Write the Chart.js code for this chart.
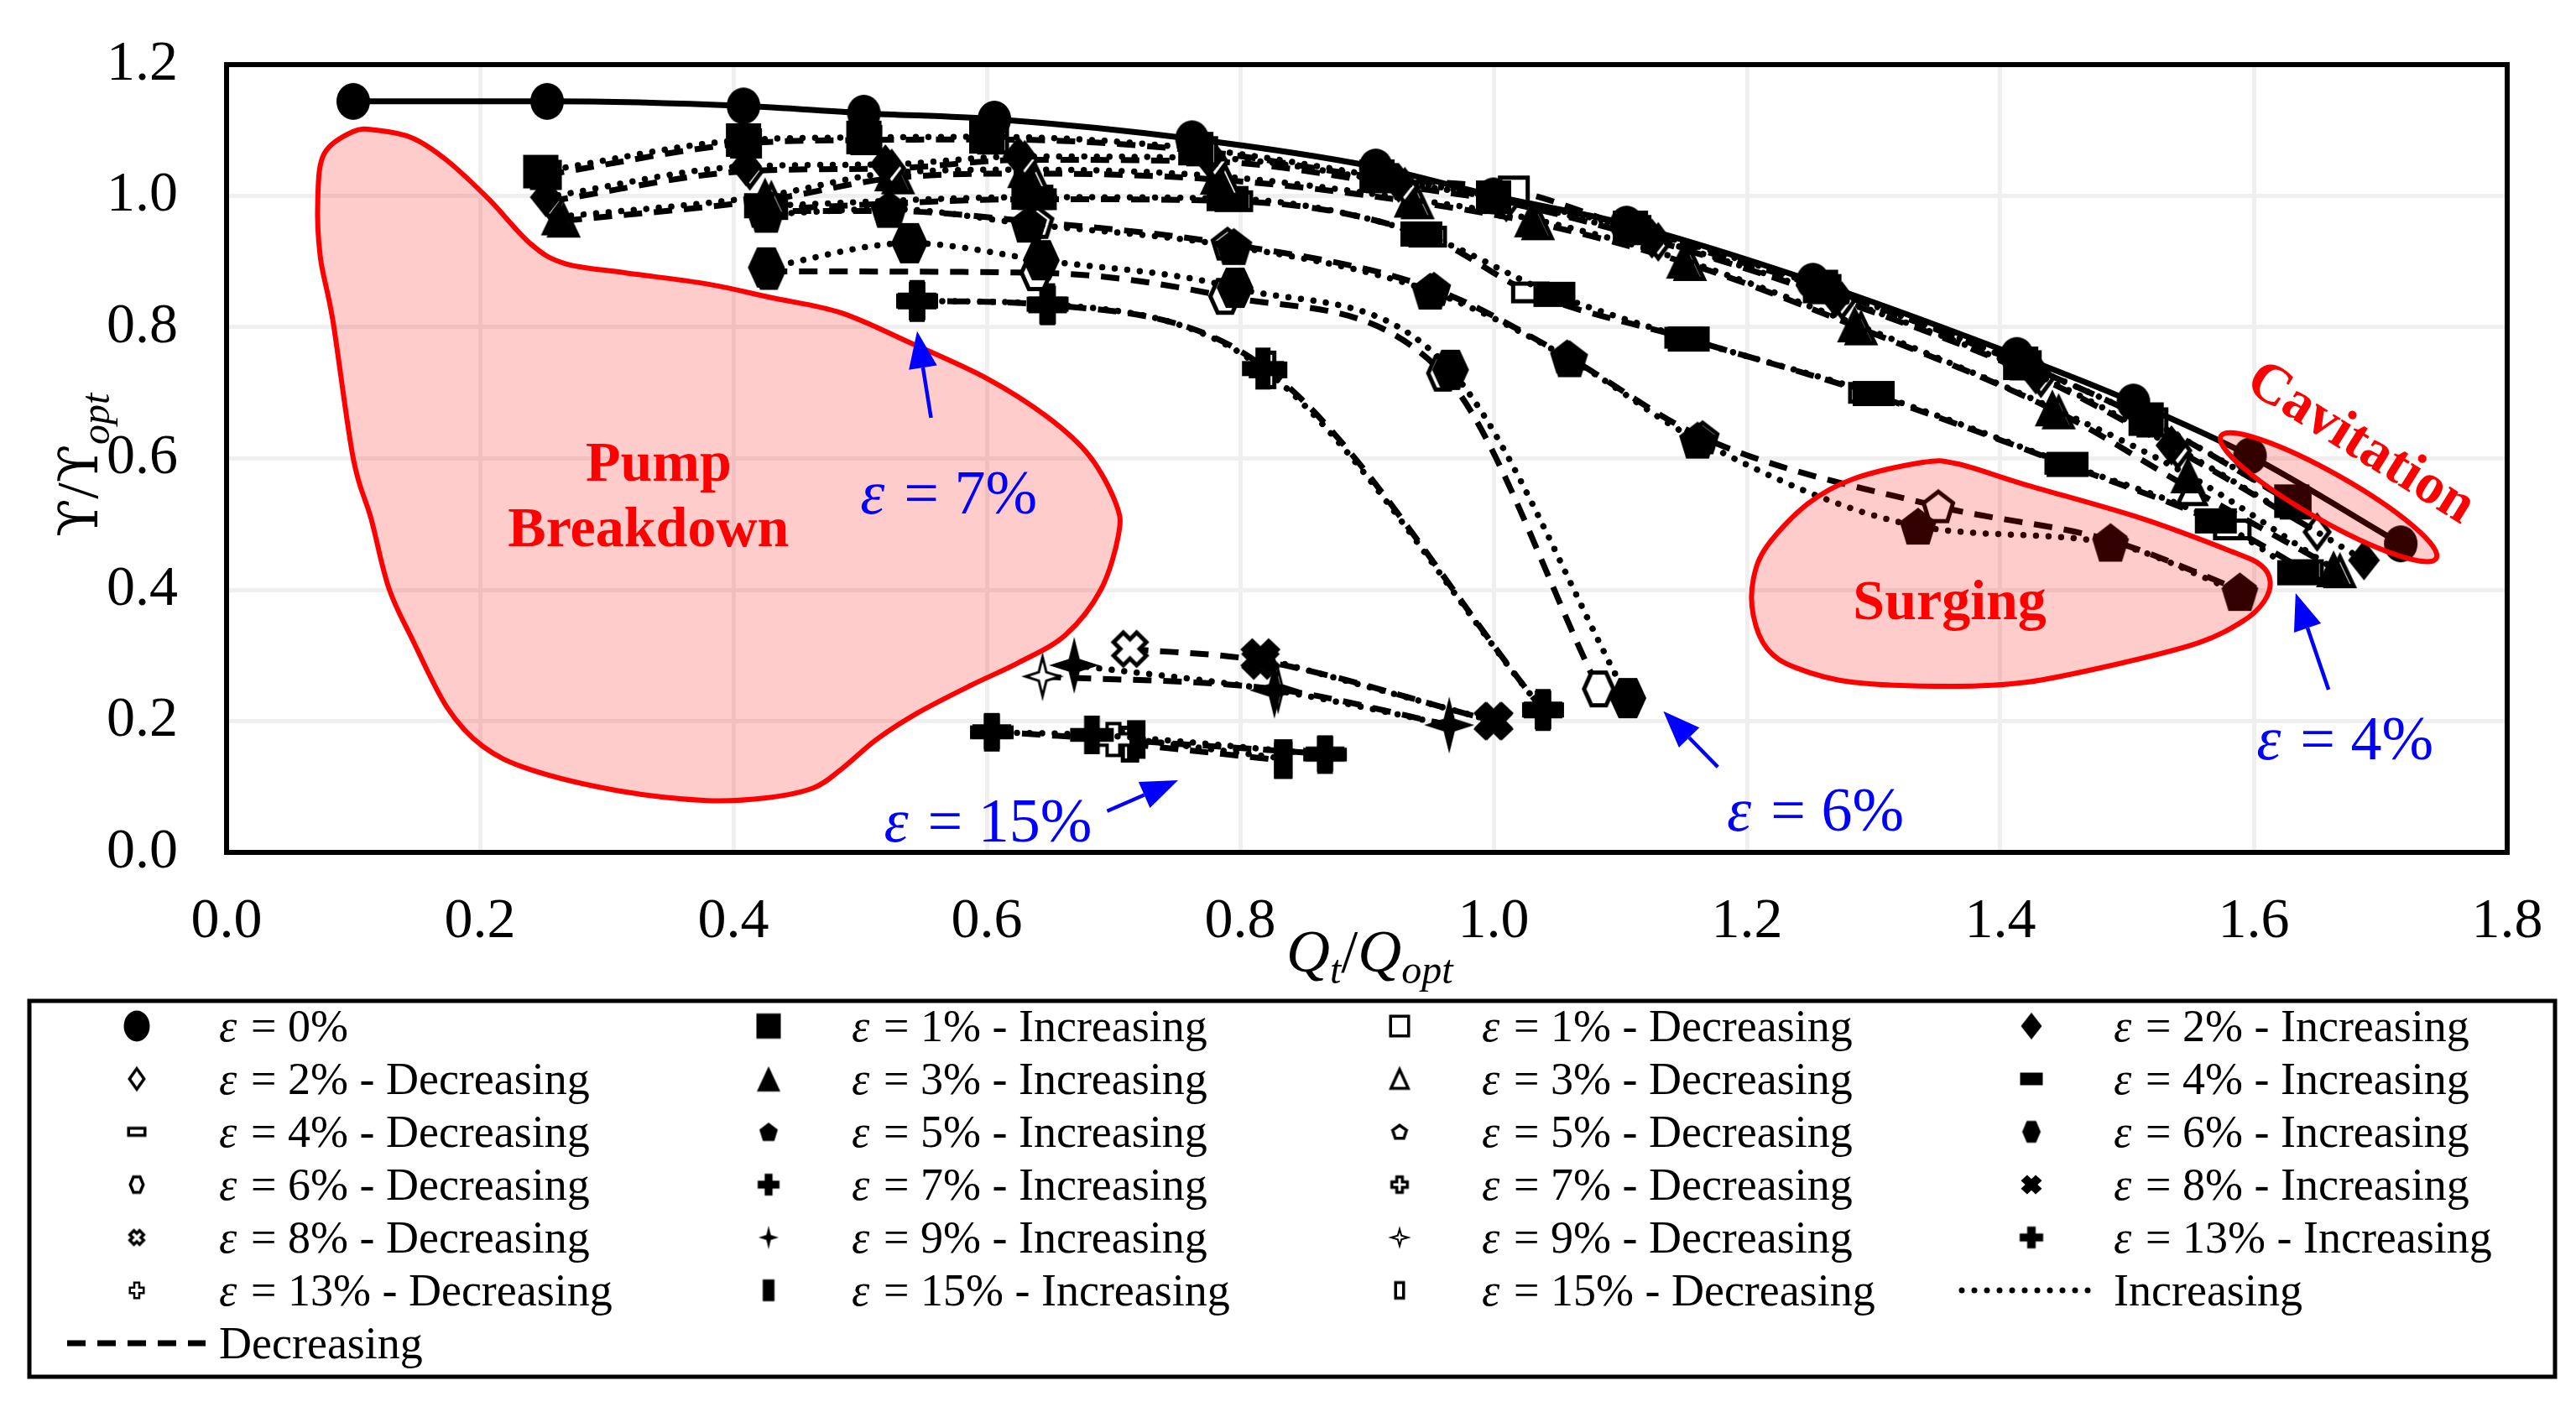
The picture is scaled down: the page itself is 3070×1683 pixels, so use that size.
<!DOCTYPE html>
<html><head><meta charset="utf-8">
<script src="https://cdn.jsdelivr.net/npm/chart.js@4.4.0/dist/chart.umd.min.js"></script>
<style>html,body{margin:0;padding:0;background:#fff;}canvas{display:block;}</style>
</head><body>
<canvas id="c" width="3070" height="1683" style="width:3070px;height:1683px"></canvas>
<script>
// ---------------- DATA ----------------
const xTickValues = [0,0.2,0.4,0.6,0.8,1.0,1.2,1.4,1.6,1.8];
const xTickLabels = ['0.0','0.2','0.4','0.6','0.8','1.0','1.2','1.4','1.6','1.8'];
const yTickValues = [0,0.2,0.4,0.6,0.8,1.0,1.2];
const yTickLabels = ['0.0','0.2','0.4','0.6','0.8','1.0','1.2'];

const e0_x = [0.100,0.253,0.408,0.503,0.606,0.762,0.907,1.000,1.105,1.252,1.413,1.505,1.597,1.716];
const e0_y = [1.144,1.144,1.137,1.126,1.117,1.087,1.044,1.000,0.957,0.870,0.757,0.686,0.604,0.470];
const e1i_x = [0.248,0.408,0.503,0.600,0.765,0.908,1.000,1.108,1.258,1.416,1.515,1.630];
const e1i_y = [1.037,1.085,1.089,1.090,1.072,1.030,0.998,0.952,0.862,0.745,0.660,0.535];
const e1d_x = [0.252,0.410,0.505,0.605,0.770,0.912,1.016,1.112,1.262,1.420,1.520,1.633];
const e1d_y = [1.032,1.080,1.085,1.086,1.068,1.027,1.008,0.948,0.858,0.742,0.655,0.530];
const e2i_x = [0.252,0.410,0.520,0.625,0.775,0.925,1.005,1.125,1.270,1.428,1.535,1.687];
const e2i_y = [0.998,1.045,1.048,1.060,1.058,1.020,0.995,0.935,0.845,0.728,0.620,0.445];
const e2d_x = [0.255,0.413,0.525,0.630,0.780,0.930,1.010,1.130,1.275,1.432,1.540,1.650];
const e2d_y = [0.992,1.038,1.042,1.055,1.052,1.014,0.990,0.930,0.840,0.722,0.612,0.488];
const e3i_x = [0.262,0.425,0.525,0.630,0.782,0.935,1.030,1.150,1.285,1.441,1.548,1.663];
const e3i_y = [0.968,1.000,1.035,1.040,1.030,0.995,0.965,0.902,0.805,0.677,0.575,0.432];
const e3d_x = [0.266,0.430,0.530,0.636,0.788,0.940,1.035,1.155,1.290,1.446,1.551,1.668];
const e3d_y = [0.962,0.995,1.028,1.034,1.024,0.990,0.958,0.896,0.798,0.670,0.553,0.428];
const e4i_x = [0.425,0.636,0.790,0.943,1.048,1.154,1.300,1.453,1.570,1.635];
const e4i_y = [0.985,0.998,0.996,0.942,0.850,0.782,0.699,0.591,0.505,0.426];
const e4d_x = [0.428,0.640,0.795,0.948,1.029,1.150,1.295,1.450,1.583,1.640];
const e4d_y = [0.980,0.995,0.992,0.938,0.853,0.784,0.700,0.592,0.492,0.430];
const e5i_x = [0.426,0.523,0.633,0.795,0.950,1.060,1.161,1.335,1.487,1.589];
const e5i_y = [0.972,0.980,0.957,0.923,0.855,0.752,0.628,0.497,0.471,0.396];
const e5d_x = [0.423,0.522,0.640,0.790,0.953,1.058,1.165,1.351,1.487,1.589];
const e5d_y = [0.977,0.977,0.960,0.927,0.858,0.755,0.632,0.527,0.475,0.400];
const e6i_x = [0.426,0.539,0.643,0.796,0.966,1.106];
const e6i_y = [0.891,0.928,0.902,0.860,0.735,0.235];
const e6d_x = [0.428,0.639,0.788,0.960,1.083];
const e6d_y = [0.885,0.883,0.847,0.730,0.249];
const e7i_x = [0.545,0.648,0.818,1.039];
const e7i_y = [0.840,0.835,0.737,0.217];
const e7d_x = [0.545,0.648,0.822,1.039];
const e7d_y = [0.840,0.834,0.735,0.217];
const e8i_x = [0.816,1.000];
const e8i_y = [0.297,0.200];
const e8d_x = [0.713,0.816,1.000];
const e8d_y = [0.310,0.292,0.200];
const e9i_x = [0.669,0.827,0.965];
const e9i_y = [0.285,0.247,0.194];
const e9d_x = [0.644,0.830,0.965];
const e9d_y = [0.268,0.248,0.194];
const e13i_x = [0.604,0.683,0.867];
const e13i_y = [0.183,0.179,0.149];
const e13d_x = [0.604,0.700,0.867];
const e13d_y = [0.184,0.172,0.150];
const e15i_x = [0.718,0.834];
const e15i_y = [0.172,0.143];
const e15d_x = [0.713,0.834];
const e15d_y = [0.165,0.140];

// annotation shapes (data units)
const pumpRegion = [[0.072,0.995],[0.077,1.064],[0.100,1.098],[0.119,1.100],[0.147,1.088],[0.174,1.054],[0.207,0.995],[0.240,0.927],[0.267,0.897],[0.314,0.883],[0.379,0.866],[0.430,0.845],[0.485,0.822],[0.541,0.775],[0.601,0.721],[0.648,0.663],[0.681,0.604],[0.702,0.531],[0.704,0.484],[0.690,0.400],[0.662,0.331],[0.625,0.289],[0.588,0.255],[0.545,0.212],[0.513,0.172],[0.486,0.128],[0.463,0.098],[0.426,0.083],[0.379,0.079],[0.309,0.094],[0.240,0.126],[0.202,0.162],[0.174,0.221],[0.147,0.323],[0.128,0.403],[0.114,0.509],[0.100,0.600],[0.084,0.809],[0.074,0.907]];
const surgeRegion = [[1.284,0.569],[1.338,0.594],[1.366,0.592],[1.420,0.560],[1.511,0.509],[1.583,0.458],[1.606,0.437],[1.613,0.412],[1.608,0.382],[1.592,0.353],[1.556,0.319],[1.488,0.285],[1.420,0.259],[1.361,0.253],[1.284,0.259],[1.239,0.281],[1.216,0.310],[1.205,0.361],[1.205,0.416],[1.216,0.467],[1.248,0.531]];
const cavEnds = [[1.574,0.634],[1.744,0.448]];

// ---------------- SERIES DEFINITIONS ----------------
const SERIES = [
  {eps:'0%', dir:'', x:e0_x, y:e0_y, mk:'c0', line:'solid'},
  {eps:'1%', dir:'Increasing', x:e1i_x, y:e1i_y, mk:'s1i', line:'dot'},
  {eps:'1%', dir:'Decreasing', x:e1d_x, y:e1d_y, mk:'s1d', line:'dash'},
  {eps:'2%', dir:'Increasing', x:e2i_x, y:e2i_y, mk:'d2i', line:'dot'},
  {eps:'2%', dir:'Decreasing', x:e2d_x, y:e2d_y, mk:'d2d', line:'dash'},
  {eps:'3%', dir:'Increasing', x:e3i_x, y:e3i_y, mk:'t3i', line:'dot'},
  {eps:'3%', dir:'Decreasing', x:e3d_x, y:e3d_y, mk:'t3d', line:'dash'},
  {eps:'4%', dir:'Increasing', x:e4i_x, y:e4i_y, mk:'r4i', line:'dot'},
  {eps:'4%', dir:'Decreasing', x:e4d_x, y:e4d_y, mk:'r4d', line:'dash'},
  {eps:'5%', dir:'Increasing', x:e5i_x, y:e5i_y, mk:'p5i', line:'dot'},
  {eps:'5%', dir:'Decreasing', x:e5d_x, y:e5d_y, mk:'p5d', line:'dash'},
  {eps:'6%', dir:'Increasing', x:e6i_x, y:e6i_y, mk:'h6i', line:'dot'},
  {eps:'6%', dir:'Decreasing', x:e6d_x, y:e6d_y, mk:'h6d', line:'dash'},
  {eps:'7%', dir:'Increasing', x:e7i_x, y:e7i_y, mk:'x7i', line:'dot'},
  {eps:'7%', dir:'Decreasing', x:e7d_x, y:e7d_y, mk:'x7d', line:'dash'},
  {eps:'8%', dir:'Increasing', x:e8i_x, y:e8i_y, mk:'k8i', line:'dot'},
  {eps:'8%', dir:'Decreasing', x:e8d_x, y:e8d_y, mk:'k8d', line:'dash'},
  {eps:'9%', dir:'Increasing', x:e9i_x, y:e9i_y, mk:'a9i', line:'dot'},
  {eps:'9%', dir:'Decreasing', x:e9d_x, y:e9d_y, mk:'a9d', line:'dash'},
  {eps:'13%', dir:'Increasing', x:e13i_x, y:e13i_y, mk:'p13i', line:'dot'},
  {eps:'13%', dir:'Decreasing', x:e13d_x, y:e13d_y, mk:'p13d', line:'dash'},
  {eps:'15%', dir:'Increasing', x:e15i_x, y:e15i_y, mk:'b15i', line:'dot'},
  {eps:'15%', dir:'Decreasing', x:e15d_x, y:e15d_y, mk:'b15d', line:'dash'}
];

// marker styles: shape, filled, plot size, legend size, outline width (plot, legend)
const MARKERS = {
  c0:['ellipse',true,[40,44],[31,37]],
  s1i:['rect',true,[42,40],[29,30]],
  s1d:['rect',false,[38,36],[25,27]],
  d2i:['diamond',true,[38,48],[25,32]],
  d2d:['diamond',false,[34,44],[21,28]],
  t3i:['triangle',true,[42,44],[28,30]],
  t3d:['triangle',false,[38,40],[24,26]],
  r4i:['rect',true,[50,30],[27,15]],
  r4d:['rect',false,[46,26],[23,12]],
  p5i:['pentagon',true,[44,44],[22,22]],
  p5d:['pentagon',false,[40,40],[20,19]],
  h6i:['hexagon',true,[44,48],[22,26]],
  h6d:['hexagon',false,[40,44],[19,22]],
  x7i:['plus',true,[50,50],[26,26]],
  x7d:['plus',false,[46,46],[22,22]],
  k8i:['xcross',true,[48,46],[25,23]],
  k8d:['xcross',false,[44,44],[20,20]],
  a9i:['star4',true,[60,68],[24,28]],
  a9d:['star4',false,[44,50],[22,22],[3,2]],
  p13i:['plus',true,[52,46],[28,26]],
  p13d:['plus',false,[46,42],[19,21],[4,2.5]],
  b15i:['rect',true,[22,46],[14,26]],
  b15d:['rect',false,[22,44],[13,22]]
};

const FONT = '"Liberation Serif"';

function polyPath(g, pts){ pts.forEach((p,i)=> i? g.lineTo(p[0],p[1]) : g.moveTo(p[0],p[1])); g.closePath(); }
function fitPts(pts, a, b){
  let mx=0,my=0; pts.forEach(p=>{mx=Math.max(mx,Math.abs(p[0]));my=Math.max(my,Math.abs(p[1]));});
  return pts.map(p=>[p[0]/mx*a, p[1]/my*b]);
}
function plusPts(t){ return [[-t,-1],[t,-1],[t,-t],[1,-t],[1,t],[t,t],[t,1],[-t,1],[-t,t],[-1,t],[-1,-t],[-t,-t]]; }
function shapePath(g, s, w, h){
  const a=w/2,b=h/2;
  g.beginPath();
  if(s==='ellipse'){ g.ellipse(0,0,a,b,0,0,Math.PI*2); return; }
  if(s==='rect'){ g.rect(-a,-b,w,h); return; }
  let pts;
  if(s==='diamond') pts=[[0,-1],[1,0],[0,1],[-1,0]];
  else if(s==='triangle') pts=[[0,-1],[1,1],[-1,1]];
  else if(s==='pentagon'){ pts=[]; for(let k=0;k<5;k++){const t=-Math.PI/2+k*2*Math.PI/5; pts.push([Math.cos(t),Math.sin(t)]);} const yc=(-1+Math.sin(-Math.PI/2+4*Math.PI/5))/2; pts=pts.map(p=>[p[0],p[1]-yc]); }
  else if(s==='hexagon'){ pts=[]; for(let k=0;k<6;k++){const t=k*Math.PI/3; pts.push([Math.cos(t),Math.sin(t)]);} }
  else if(s==='plus') pts=plusPts(0.36);
  else if(s==='xcross'){ const c=Math.SQRT1_2; pts=plusPts(0.42).map(p=>[(p[0]-p[1])*c,(p[0]+p[1])*c]); }
  else if(s==='star4'){ const q=0.22; pts=[[0,-1],[q,-q],[1,0],[q,q],[0,1],[-q,q],[-1,0],[-q,-q]]; }
  polyPath(g, fitPts(pts,a,b));
}
function makeMarker(key, legend){
  const m = MARKERS[key];
  const [shape, filled, ps, ls] = m;
  const [w,h] = legend ? ls : ps;
  const lw = m[4] ? (legend ? m[4][1] : m[4][0]) : (legend ? 3.5 : 5);
  const c = document.createElement('canvas');
  c.width = Math.ceil(w + 2*lw + 4); c.height = Math.ceil(h + 2*lw + 4);
  const g = c.getContext('2d');
  g.translate(c.width/2, c.height/2);
  shapePath(g, shape, filled ? w : w - lw, filled ? h : h - lw);
  if(filled){ g.fillStyle='#000'; g.fill(); }
  else { g.fillStyle='#fff'; g.fill(); g.lineWidth=lw; g.strokeStyle='#000'; g.lineJoin='miter'; g.stroke(); }
  return c;
}

const LINESTYLE = {
  solid:{dash:[], cap:'butt', w:7},
  dot:{dash:[0.001,15], cap:'round', w:7.5},
  dash:{dash:[22,14], cap:'butt', w:7}
};

const datasets = SERIES.map(s => ({
  label: 'ε = ' + s.eps + (s.dir ? ' - ' + s.dir : ''),
  data: s.x.map((x,i)=>({x:x, y:s.y[i]})),
  showLine: true,
  borderColor:'#000', backgroundColor:'#000',
  borderWidth: LINESTYLE[s.line].w,
  borderDash: LINESTYLE[s.line].dash,
  borderCapStyle: LINESTYLE[s.line].cap,
  cubicInterpolationMode: 'monotone',
  pointStyle: makeMarker(s.mk,false),
  pointRadius: 22, pointHoverRadius: 22,
  fill:false
}));
const legendMarkers = SERIES.map(s => makeMarker(s.mk,true));

// -------------- drawing helpers --------------
function drawParts(ctx, x, y, parts, align){
  const ws = parts.map(p=>{ctx.font=p.f; return ctx.measureText(p.t).width + (p.gap||0);});
  const tot = ws.reduce((a,b)=>a+b,0);
  let cx = align==='center' ? x - tot/2 : x;
  parts.forEach((p,i)=>{ ctx.font=p.f; ctx.fillText(p.t, cx, y + (p.dy||0)); cx += ws[i]; });
}
function epsParts(size, val, tail){
  const parts = [
    {t:'ε', f:`italic ${size}px ${FONT}`, gap: size*0.06},
    {t:' = ' + val, f:`${size}px ${FONT}`}
  ];
  if(tail) parts.push({t:' - ' + tail, f:`${size}px ${FONT}`});
  return parts;
}
function smoothClosed(ctx, pts){
  const n=pts.length; ctx.beginPath(); ctx.moveTo(pts[0][0],pts[0][1]);
  for(let i=0;i<n;i++){
    const p0=pts[(i-1+n)%n], p1=pts[i], p2=pts[(i+1)%n], p3=pts[(i+2)%n];
    ctx.bezierCurveTo(p1[0]+(p2[0]-p0[0])/6, p1[1]+(p2[1]-p0[1])/6, p2[0]-(p3[0]-p1[0])/6, p2[1]-(p3[1]-p1[1])/6, p2[0], p2[1]);
  }
  ctx.closePath();
}
function arrow(ctx, x1,y1,x2,y2){
  const ang=Math.atan2(y2-y1,x2-x1), L=44, W=17;
  const bx=x2-L*Math.cos(ang), by=y2-L*Math.sin(ang);
  ctx.beginPath(); ctx.moveTo(x1,y1); ctx.lineTo(bx,by); ctx.lineWidth=4.5; ctx.strokeStyle='#0000ff'; ctx.stroke();
  ctx.beginPath(); ctx.moveTo(x2,y2);
  ctx.lineTo(bx + W*Math.sin(ang), by - W*Math.cos(ang));
  ctx.lineTo(bx - W*Math.sin(ang), by + W*Math.cos(ang));
  ctx.closePath(); ctx.fillStyle='#0000ff'; ctx.fill();
}

// annotation anchors (data units)
const redLabels = [
  {t:'Pump', x:0.341, y:0.566, rot:0},
  {t:'Breakdown', x:0.333, y:0.466, rot:0},
  {t:'Surging', x:1.360, y:0.355, rot:0},
  {t:'Cavitation', x:1.684, y:0.622, rot:32}
];
const blueLabels = [
  {v:'7%', x:0.570, y:0.516, a:[0.556,0.662,0.545,0.794]},
  {v:'15%', x:0.601, y:0.017, a:[0.695,0.063,0.751,0.110]},
  {v:'6%', x:1.254, y:0.033, a:[1.177,0.130,1.134,0.215]},
  {v:'4%', x:1.672, y:0.142, a:[1.659,0.248,1.633,0.395]}
];

const deco = {
  id:'deco',
  afterDatasetsDraw(chart){
    const ctx=chart.ctx, sx=chart.scales.x, sy=chart.scales.y, ca=chart.chartArea;
    const P=(x,y)=>[sx.getPixelForValue(x), sy.getPixelForValue(y)];
    ctx.save();
    ctx.fillStyle='rgba(255,0,0,0.2)'; ctx.strokeStyle='#ff0000'; ctx.lineWidth=6;
    [pumpRegion, surgeRegion].forEach(r=>{ smoothClosed(ctx, r.map(p=>P(p[0],p[1]))); ctx.fill(); ctx.stroke(); });
    const e1=P(cavEnds[0][0],cavEnds[0][1]), e2=P(cavEnds[1][0],cavEnds[1][1]);
    const cx=(e1[0]+e2[0])/2, cy=(e1[1]+e2[1])/2;
    const semiMaj=Math.hypot(e2[0]-e1[0], e2[1]-e1[1])/2;
    const semiMin=Math.abs(sy.getPixelForValue(0)-sy.getPixelForValue(0.036));
    ctx.beginPath(); ctx.ellipse(cx,cy,semiMaj,semiMin,Math.atan2(e2[1]-e1[1],e2[0]-e1[0]),0,Math.PI*2);
    ctx.fill(); ctx.stroke();
    ctx.fillStyle='#ff0000'; ctx.font=`bold 68px ${FONT}`; ctx.textAlign='center'; ctx.textBaseline='alphabetic';
    redLabels.forEach(l=>{
      const p=P(l.x,l.y);
      ctx.save(); ctx.translate(p[0],p[1]); ctx.rotate(l.rot*Math.PI/180);
      if(l.rot){ ctx.textBaseline='middle'; }
      ctx.fillText(l.t,0,0); ctx.restore();
    });
    ctx.textAlign='left'; ctx.textBaseline='alphabetic';
    blueLabels.forEach(l=>{
      const p=P(l.x,l.y);
      ctx.fillStyle='#0000ff';
      drawParts(ctx, p[0], p[1], epsParts(74, l.v), 'center');
      const t=P(l.a[0],l.a[1]), h=P(l.a[2],l.a[3]);
      arrow(ctx, t[0],t[1],h[0],h[1]);
    });
    ctx.strokeStyle='#000'; ctx.lineWidth=6;
    ctx.strokeRect(ca.left, ca.top, ca.right-ca.left, ca.bottom-ca.top);
    ctx.fillStyle='#000'; ctx.textAlign='left'; ctx.textBaseline='alphabetic';
    drawParts(ctx, 1533, 1158, [
      {t:'Q', f:`italic 72px ${FONT}`},
      {t:'t', f:`italic 48px ${FONT}`, dy:14},
      {t:'/', f:`72px ${FONT}`},
      {t:'Q', f:`italic 72px ${FONT}`},
      {t:'opt', f:`italic 48px ${FONT}`, dy:14}
    ], 'left');
    ctx.save(); ctx.translate(116, 640); ctx.rotate(-Math.PI/2);
    drawParts(ctx, 0, 0, [
      {t:'ϒ', f:`66px "DejaVu Serif"`},
      {t:'/', f:`70px ${FONT}`},
      {t:'ϒ', f:`66px "DejaVu Serif"`},
      {t:'opt', f:`italic 48px ${FONT}`, dy:14}
    ], 'left');
    ctx.restore();
    ctx.restore();
  },
  afterDraw(chart){
    const ctx=chart.ctx;
    ctx.save();
    ctx.strokeStyle='#000'; ctx.lineWidth=5;
    ctx.strokeRect(35, 1193, 3010, 448);
    const colMarker=[163,916,1668,2421], colText=[261,1015,1766,2519];
    const row0=1223, rowH=63;
    ctx.fillStyle='#000'; ctx.textAlign='left'; ctx.textBaseline='alphabetic';
    SERIES.forEach((s,k)=>{
      const r=Math.floor(k/4), c=k%4, y=row0+r*rowH;
      const m=legendMarkers[k];
      ctx.drawImage(m, colMarker[c]-m.width/2, y-m.height/2);
      ctx.fillStyle='#000';
      drawParts(ctx, colText[c], y+18, epsParts(54, s.eps, s.dir), 'left');
    });
    const extra=[{k:23, style:'dot', t:'Increasing'},{k:24, style:'dash', t:'Decreasing'}];
    extra.forEach(e=>{
      const r=Math.floor(e.k/4), c=e.k%4, y=row0+r*rowH;
      ctx.beginPath(); ctx.moveTo(colMarker[c]-83, y); ctx.lineTo(colText[c]-16, y);
      ctx.setLineDash(LINESTYLE[e.style].dash); ctx.lineCap=LINESTYLE[e.style].cap; ctx.lineWidth=7; ctx.strokeStyle='#000'; ctx.stroke();
      ctx.setLineDash([]); ctx.lineCap='butt';
      ctx.font=`54px ${FONT}`; ctx.fillText(e.t, colText[c], y+18);
    });
    ctx.restore();
  }
};

const tickFont = {family:FONT, size:68};
new Chart(document.getElementById('c').getContext('2d'), {
  type:'scatter',
  data:{datasets},
  options:{
    responsive:false, animation:false, devicePixelRatio:1,
    layout:{padding:{left:0, top:77, right:82, bottom:517}},
    plugins:{legend:{display:false}, tooltip:{enabled:false}},
    scales:{
      x:{type:'linear', min:0, max:1.8,
        afterBuildTicks:s=>{ s.ticks = xTickValues.map(v=>({value:v})); },
        ticks:{callback:(v,i)=>xTickLabels[i], font:tickFont, color:'#000', padding:42, maxRotation:0, autoSkip:false},
        grid:{color:'#efefef', lineWidth:5, drawTicks:false}, border:{display:false},
        afterFit:s=>{ s.height=150; s.paddingLeft=0; s.paddingRight=0; }},
      y:{type:'linear', min:0, max:1.2,
        afterBuildTicks:s=>{ s.ticks = yTickValues.map(v=>({value:v})); },
        ticks:{callback:(v,i)=>yTickLabels[i], font:tickFont, color:'#000', padding:58, autoSkip:false},
        grid:{color:'#efefef', lineWidth:5, drawTicks:false}, border:{display:false},
        afterFit:s=>{ s.width=270; s.paddingTop=0; s.paddingBottom=0; }}
    }
  },
  plugins:[deco]
});
</script>
</body></html>
